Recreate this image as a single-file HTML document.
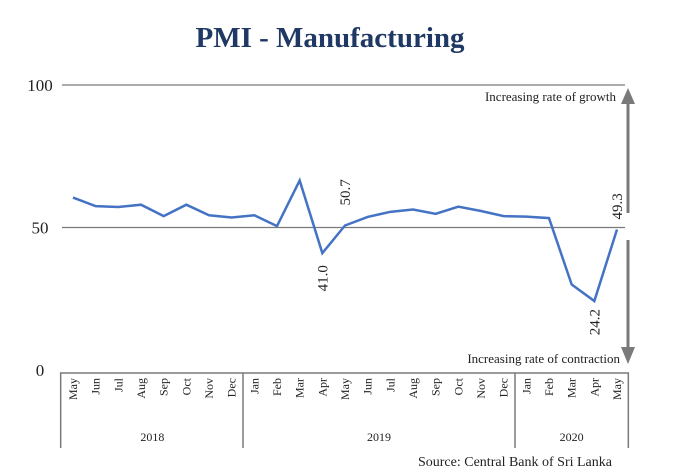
<!DOCTYPE html>
<html><head><meta charset="utf-8"><style>
body{margin:0;background:#fff;}
svg{display:block;font-family:"Liberation Serif",serif;}
</style></head><body>
<svg width="700" height="475" viewBox="0 0 700 475" xmlns="http://www.w3.org/2000/svg">
<text x="330" y="47" text-anchor="middle" font-size="29" font-weight="bold" fill="#1f3864">PMI - Manufacturing</text>
<g id="grid"></g>
<g id="axis"></g>
<polyline id="line" fill="none" stroke="#4472c4" stroke-width="2.5"/>
<g id="labels"></g>
<g>
<line x1="628" y1="100" x2="628" y2="213" stroke="#7a7a7a" stroke-width="3"/>
<polygon points="621,104 635,104 628,88" fill="#7a7a7a"/>
</g>
<g>
<line x1="628" y1="240" x2="628" y2="350" stroke="#7a7a7a" stroke-width="3"/>
<polygon points="621,347 635,347 628,364" fill="#7a7a7a"/>
</g>
<text x="616" y="101" text-anchor="end" font-size="13" fill="#222">Increasing rate of growth</text>
<text x="620" y="363" text-anchor="end" font-size="13" fill="#222">Increasing rate of contraction</text>
<text x="612" y="466" text-anchor="end" font-size="14" fill="#222">Source: Central Bank of Sri Lanka</text>
</svg>
<script>
const months=["May","Jun","Jul","Aug","Sep","Oct","Nov","Dec","Jan","Feb","Mar","Apr","May","Jun","Jul","Aug","Sep","Oct","Nov","Dec","Jan","Feb","Mar","Apr","May"];
const values=[60.5,57.5,57.2,58,54,58,54.3,53.5,54.3,50.5,66.5,41.0,50.7,53.7,55.5,56.3,54.8,57.3,55.8,54,53.8,53.3,30,24.2,49.3];
const yTicks=[0,50,100];
const years=[{label:"2018",start:0,end:7},{label:"2019",start:8,end:19},{label:"2020",start:20,end:24}];
const annotations=[{i:11,text:"41.0",pos:"below",off:12},{i:12,text:"50.7",pos:"above",off:20},{i:23,text:"24.2",pos:"below",off:8},{i:24,text:"49.3",pos:"above",off:10}];
const NS="http://www.w3.org/2000/svg";
const x0=73,x1=617,y0=370,y1=85;
const xs=i=>x0+(x1-x0)*i/(months.length-1);
const ys=v=>y0-(y0-y1)*v/100;
const step=(x1-x0)/(months.length-1);
function mk(tag,attrs,parent,text){const e=document.createElementNS(NS,tag);for(const k in attrs)e.setAttribute(k,attrs[k]);if(text!==undefined)e.textContent=text;parent.appendChild(e);return e;}
const grid=document.getElementById('grid'),axis=document.getElementById('axis'),labels=document.getElementById('labels');
yTicks.forEach(t=>{
 if(t>0){const l=mk('line',{x1:62,x2:625,y1:ys(t),y2:ys(t),stroke:'#7a7a7a','stroke-width':1.3},grid);
 
 }
 const tx=mk('text',{x:40,y:ys(t)+6,'text-anchor':'middle','font-size':17,fill:'#222'},axis,String(t));
 
 
});
const boxTop=373,boxBot=448,boxL=x0-step/2-1,boxR=x1+step/2;
const box=mk('path',{d:`M${boxL},${boxBot} L${boxL},${boxTop} L${boxR},${boxTop} L${boxR},${boxBot}`,fill:'none',stroke:'#7a7a7a','stroke-width':1.5},axis);


years.forEach((y,k)=>{
 if(k>0){const xd=(xs(y.start)+xs(y.start-1))/2;const d=mk('line',{x1:xd,x2:xd,y1:boxTop,y2:boxBot,stroke:'#7a7a7a','stroke-width':1.5},axis);
 
 }
 const t=mk('text',{x:(xs(y.start)+xs(y.end))/2,y:441,'text-anchor':'middle','font-size':12,fill:'#222'},axis,y.label);
 
 
});
months.forEach((m,i)=>{
 const x=xs(i)+4,y=378;
 const t=mk('text',{x:x,y:y,transform:`rotate(-90 ${x} ${y})`,'text-anchor':'end','font-size':12,fill:'#222'},axis,m);
 
 
});
document.getElementById('line').setAttribute('points',values.map((v,i)=>xs(i)+','+ys(v)).join(' '));
annotations.forEach(a=>{
 const x=xs(a.i)+5;const yv=ys(values[a.i]);
 const y=a.pos==='above'?yv-a.off:yv+a.off;
 const t=mk('text',{x:x,y:y,transform:`rotate(-90 ${x} ${y})`,'text-anchor':a.pos==='above'?'start':'end','font-size':15,fill:'#222'},labels,a.text);
 
 
});
</script>
</body></html>
